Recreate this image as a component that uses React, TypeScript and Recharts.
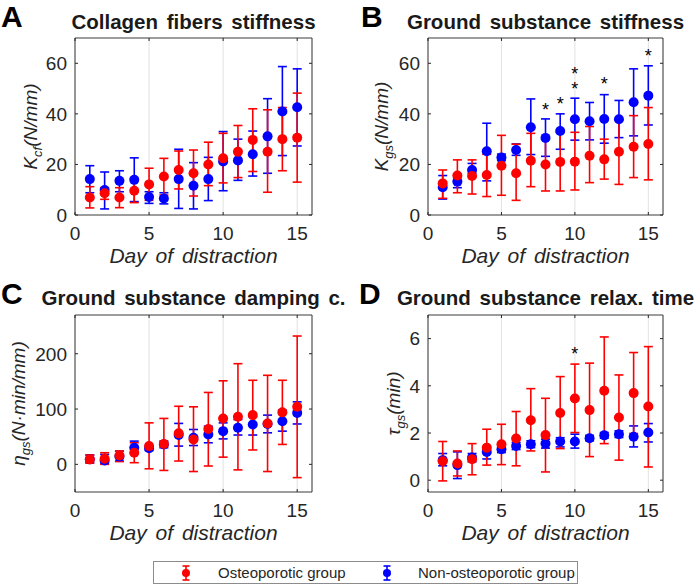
import React from 'react';
import {
  ScatterChart,
  Scatter,
  XAxis,
  YAxis,
  ErrorBar,
  CartesianGrid,
  ReferenceArea,
} from 'recharts';

const FONT = '"Liberation Sans", Arial, Helvetica, sans-serif';
const AXIS = '#262626';
const RED = '#ff0000';
const BLUE = '#0000ff';

const days = [1, 2, 3, 4, 5, 6, 7, 8, 9, 10, 11, 12, 13, 14, 15];
const dayTicks = [0, 5, 10, 15];

// A - collagen fibers stiffness
const cfRedMean = [6.9, 8.6, 6.9, 9.6, 12.1, 15.2, 17.8, 16.5, 20, 22.4, 25, 29.7, 25, 30, 30.6];
const cfRedLow = [2.8, 6.2, 2.9, 4.9, 5.8, 7.9, 10.3, 7.5, 11.6, 12.7, 14.8, 17.2, 9, 17.5, 13];
const cfRedHigh = [11.2, 10.8, 10.8, 14.5, 18.5, 22.4, 25.3, 25.7, 28.8, 32.3, 35.4, 42, 41.6, 42.5, 48.2];
const cfBlueMean = [14.2, 9.9, 13.5, 13.9, 7.1, 6.5, 14.2, 11.6, 14.2, 21.2, 21.6, 24, 31.1, 40.9, 42.6];
const cfBlueLow = [8.8, 2.4, 9.2, 5.3, 4.6, 4.4, 2.6, 2.4, 5.7, 9.6, 13.7, 15.4, 16.5, 23.5, 27.3];
const cfBlueHigh = [19.5, 17, 17.5, 22.6, 9.2, 8.8, 26, 20.7, 22.8, 33, 30, 33.2, 46, 58.7, 57.8];

// B - ground substance stiffness
const gsRedMean = [12.5, 15.6, 15.4, 15.8, 19.5, 16.5, 21.5, 20, 21, 21.1, 23.4, 22, 25, 27, 28.1];
const gsRedLow = [6.6, 8.8, 8.3, 7.3, 7.8, 5.8, 11.2, 9.5, 9.5, 9.9, 12.8, 14.2, 12.1, 14.8, 13.9];
const gsRedHigh = [17.8, 21.8, 21.8, 24, 31.5, 28, 32.3, 30.8, 32.7, 32.7, 35, 30, 37.5, 39.3, 42.5];
const gsBlueMean = [11, 13.2, 17.8, 25.2, 22.7, 25.7, 34.7, 30.5, 33.2, 37.9, 37.1, 38, 37.9, 44.6, 47.2];
const gsBlueLow = [6.3, 10.8, 16.5, 13.5, 21.5, 23.6, 23.9, 23.2, 26, 29.6, 29.7, 28.4, 30.6, 31.3, 35.6];
const gsBlueHigh = [15.6, 14.8, 20.4, 36.3, 24.1, 28.1, 45.9, 38, 40, 46.2, 44.5, 47.6, 45.3, 57.8, 59];
const gsStarDays = [8, 9, 10, 10, 12, 15];
const gsStarY = [43.1, 45.5, 51.6, 57.2, 53.4, 64.4];

// C - ground substance damping coefficient
const dampRedMean = [9, 10, 16, 21, 33, 37, 56, 45, 64, 83, 86, 89, 74, 94, 104];
const dampRedLow = [2, 0, 5, 3, -8, -11, 6, -13, -3, 13, -10, 26, -13, 36, -24];
const dampRedHigh = [17, 21, 24, 39, 75, 83, 105, 104, 130, 151, 182, 152, 161, 152, 232];
const dampBlueMean = [9, 7, 14, 30, 29, 36, 53, 48, 54, 60, 66, 72, 73, 78, 93];
const dampBlueLow = [3, 2, 6, 21, 25, 30, 33, 34, 39, 46, 53, 53, 57, 60, 73];
const dampBlueHigh = [17, 18, 24, 42, 33, 42, 74, 63, 69, 75, 81, 86, 89, 98, 113];

// D - ground substance relaxation time
const tauRedMean = [0.8, 0.71, 0.89, 1.38, 1.52, 1.77, 2.54, 1.91, 2.85, 3.46, 2.97, 3.79, 2.66, 3.69, 3.12];
const tauRedLow = [-0.03, 0.18, 0.23, 0.64, 0.66, 0.61, 1.24, 0.35, 1.34, 2.02, 1.0, 1.55, 0.85, 1.98, 0.56];
const tauRedHigh = [1.64, 1.24, 1.55, 2.16, 2.37, 2.91, 3.88, 3.47, 4.39, 4.92, 4.96, 6.07, 4.46, 5.41, 5.66];
const tauBlueMean = [0.85, 0.64, 0.96, 1.2, 1.31, 1.45, 1.52, 1.55, 1.64, 1.64, 1.78, 1.9, 1.95, 1.84, 2.02];
const tauBlueLow = [0.61, 0.07, 0.78, 0.9, 1.17, 1.3, 1.38, 1.36, 1.41, 1.36, 1.67, 1.78, 1.81, 1.41, 1.62];
const tauBlueHigh = [1.13, 1.2, 1.13, 1.38, 1.45, 1.6, 1.67, 1.74, 1.8, 1.95, 1.9, 2.02, 2.09, 2.3, 2.4];
const tauStarDays = [10];
const tauStarY = [5.52];

const rows = (mean: number[], low: number[], high: number[]) =>
  days.map((d, i) => ({ day: d, y: mean[i], err: [mean[i] - low[i], high[i] - mean[i]] }));

const stars = (xs: number[], ys: number[]) => xs.map((d, i) => ({ day: d, y: ys[i] }));

const CHART_W = 350;
const CHART_H = 275;
const TOP = 38;
const X_H = 60;

const Dot = (color: string) => (p: any) => <circle cx={p.cx} cy={p.cy} r={5} fill={color} />;

const Star = (p: any) => (
  <text x={p.cx} y={p.cy} dy={10} textAnchor="middle" fontSize={18} fill="#000" fontFamily={FONT}>
    *
  </text>
);

const Panel = ({ left, top, axisW, rightGap, domain, ticks, labelX, yLabel, letter, title, red, blue, sig }: any) => {
  const plotW = CHART_W - axisW - rightGap;
  const plotH = CHART_H - TOP - X_H;

  const XTick = (p: any) => {
    const { x, y, payload } = p;
    return (
      <g>
        <line x1={x} x2={x} y1={y} y2={y - 3} stroke={AXIS} />
        <line x1={x} x2={x} y1={y - plotH} y2={y - plotH + 3} stroke={AXIS} />
        <text x={x} y={y + 18} dy="0.36em" textAnchor="middle" fill={AXIS} fontSize={19} fontFamily={FONT}>
          {payload.value}
        </text>
      </g>
    );
  };

  const YTick = (p: any) => {
    const { x, y, payload } = p;
    return (
      <g>
        <line x1={x} x2={x + 3} y1={y} y2={y} stroke={AXIS} />
        <line x1={x + plotW} x2={x + plotW - 3} y1={y} y2={y} stroke={AXIS} />
        <text x={x - 8} y={y} dy="0.36em" textAnchor="end" fill={AXIS} fontSize={19} fontFamily={FONT}>
          {payload.value}
        </text>
      </g>
    );
  };

  const XLabel = (p: any) => {
    const vb = p.viewBox || { x: axisW, y: TOP + plotH, width: plotW };
    return (
      <text
        x={vb.x + vb.width / 2}
        y={vb.y + 48}
        textAnchor="middle"
        fontSize={21}
        fontStyle="italic"
        wordSpacing={3}
        fill={AXIS}
        fontFamily={FONT}
      >
        Day of distraction
      </text>
    );
  };

  const YLabel = () => {
    const cy = TOP + plotH / 2;
    return (
      <text
        x={labelX}
        y={cy}
        transform={`rotate(-90 ${labelX} ${cy})`}
        textAnchor="middle"
        fontSize={19}
        fontStyle="italic"
        fill={AXIS}
        fontFamily={FONT}
      >
        {yLabel}
      </text>
    );
  };

  return (
    <div style={{ position: 'absolute', left, top, width: CHART_W, height: CHART_H }}>
      <div
        style={{
          position: 'absolute',
          left: letter.x,
          top: 0,
          fontSize: 30,
          fontWeight: 'bold',
          fontFamily: FONT,
          color: '#000',
        }}
      >
        {letter.text}
      </div>
      <div
        style={{
          position: 'absolute',
          left: axisW + plotW / 2 - 200,
          width: 400,
          top: title.y,
          textAlign: 'center',
          fontSize: 20.5,
          fontWeight: 'bold',
          wordSpacing: 3,
          fontFamily: FONT,
          color: '#1a1a1a',
          lineHeight: '22px',
          whiteSpace: 'nowrap',
        }}
      >
        {title.text}
      </div>
      <ScatterChart width={CHART_W} height={CHART_H} margin={{ top: TOP, right: rightGap, left: 0, bottom: 0 }}>
        <CartesianGrid vertical horizontal={false} stroke="#e2e2e2" />
        <XAxis
          type="number"
          dataKey="day"
          domain={[0, 16]}
          ticks={dayTicks}
          allowDataOverflow
          height={X_H}
          axisLine={false}
          tickLine={false}
          tickSize={0}
          tickMargin={0}
          tick={<XTick />}
          label={<XLabel />}
        />
        <YAxis
          type="number"
          dataKey="y"
          domain={domain}
          ticks={ticks}
          allowDataOverflow
          width={axisW}
          axisLine={false}
          tickLine={false}
          tickSize={0}
          tickMargin={0}
          tick={<YTick />}
          label={<YLabel />}
        />
        <ReferenceArea
          x1={0}
          x2={16}
          y1={domain[0]}
          y2={domain[1]}
          fill="none"
          fillOpacity={0}
          stroke="#3a3a3a"
          strokeWidth={1}
        />
        <Scatter data={blue} shape={Dot(BLUE)} isAnimationActive={false}>
          <ErrorBar dataKey="err" direction="y" width={4.5} stroke={BLUE} strokeWidth={1.6} />
        </Scatter>
        <Scatter data={red} shape={Dot(RED)} isAnimationActive={false}>
          <ErrorBar dataKey="err" direction="y" width={4.5} stroke={RED} strokeWidth={1.6} />
        </Scatter>
        {sig ? <Scatter data={sig} shape={Star} isAnimationActive={false} /> : null}
      </ScatterChart>
    </div>
  );
};

const LegendMarker = ({ color }: { color: string }) => (
  <svg width={12} height={18} style={{ position: 'absolute', top: 2 }}>
    <line x1={6} x2={6} y1={2} y2={16} stroke={color} strokeWidth={1.6} />
    <line x1={2.5} x2={9.5} y1={2} y2={2} stroke={color} strokeWidth={1.6} />
    <line x1={2.5} x2={9.5} y1={16} y2={16} stroke={color} strokeWidth={1.6} />
    <circle cx={6} cy={9} r={4} fill={color} />
  </svg>
);

export default function App() {
  const sub = (s: string) => (
    <>
      <tspan dy={5} fontSize={13}>
        {s}
      </tspan>
      <tspan dy={-5}>(</tspan>
    </>
  );
  return (
    <div style={{ position: 'absolute', left: 0, top: 0, width: 700, height: 588, background: '#fff', fontFamily: FONT }}>
      <Panel
        left={0}
        top={0}
        axisW={75}
        rightGap={38}
        domain={[0, 70]}
        ticks={[0, 20, 40, 60]}
        labelX={37}
        yLabel={<>K{sub('cf')}N/mm)</>}
        letter={{ text: 'A', x: 1 }}
        title={{ text: 'Collagen fibers stiffness', y: 11 }}
        red={rows(cfRedMean, cfRedLow, cfRedHigh)}
        blue={rows(cfBlueMean, cfBlueLow, cfBlueHigh)}
      />
      <Panel
        left={350}
        top={0}
        axisW={78}
        rightGap={37}
        domain={[0, 70]}
        ticks={[0, 20, 40, 60]}
        labelX={38}
        yLabel={<>K{sub('gs')}N/mm)</>}
        letter={{ text: 'B', x: 11 }}
        title={{ text: 'Ground substance stiffness', y: 11 }}
        red={rows(gsRedMean, gsRedLow, gsRedHigh)}
        blue={rows(gsBlueMean, gsBlueLow, gsBlueHigh)}
        sig={stars(gsStarDays, gsStarY)}
      />
      <Panel
        left={0}
        top={277}
        axisW={75}
        rightGap={38}
        domain={[-50, 270]}
        ticks={[0, 100, 200]}
        labelX={25}
        yLabel={<>η{sub('gs')}N·min/mm)</>}
        letter={{ text: 'C', x: 1 }}
        title={{ text: 'Ground substance damping c.', y: 10 }}
        red={rows(dampRedMean, dampRedLow, dampRedHigh)}
        blue={rows(dampBlueMean, dampBlueLow, dampBlueHigh)}
      />
      <Panel
        left={350}
        top={277}
        axisW={78}
        rightGap={37}
        domain={[-0.5, 7]}
        ticks={[0, 2, 4, 6]}
        labelX={50}
        yLabel={<>τ{sub('gs')}min)</>}
        letter={{ text: 'D', x: 9 }}
        title={{ text: 'Ground substance relax. time', y: 10 }}
        red={rows(tauRedMean, tauRedLow, tauRedHigh)}
        blue={rows(tauBlueMean, tauBlueLow, tauBlueHigh)}
        sig={stars(tauStarDays, tauStarY)}
      />
      <div
        style={{
          position: 'absolute',
          left: 153,
          top: 561,
          width: 423,
          height: 21,
          border: '1px solid #8c8c8c',
          fontSize: 15,
          color: '#262626',
          lineHeight: '21px',
        }}
      >
        <div style={{ position: 'absolute', left: 26 }}>
          <LegendMarker color={RED} />
        </div>
        <span style={{ position: 'absolute', left: 64 }}>Osteoporotic group</span>
        <div style={{ position: 'absolute', left: 227 }}>
          <LegendMarker color={BLUE} />
        </div>
        <span style={{ position: 'absolute', left: 264 }}>Non-osteoporotic group</span>
      </div>
    </div>
  );
}
